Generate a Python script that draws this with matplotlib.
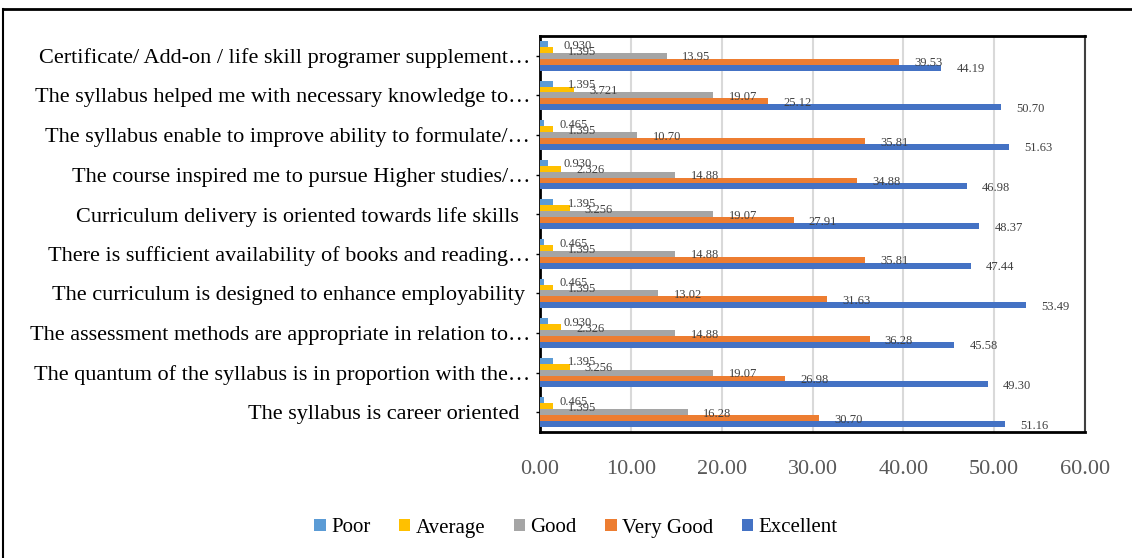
import matplotlib
matplotlib.use("Agg")
import matplotlib.pyplot as plt
import numpy as np
from matplotlib.lines import Line2D

plt.rcParams['font.family'] = ['Liberation Serif', 'DejaVu Serif']

categories = [
    "Certificate/ Add-on / life skill programer supplement…",
    "The syllabus helped me with necessary knowledge to…",
    "The syllabus enable to improve ability to formulate/…",
    "The course inspired me to pursue Higher studies/…",
    "Curriculum delivery is oriented towards life skills  ",
    "There is sufficient availability of books and reading…",
    "The curriculum is designed to enhance employability ",
    "The assessment methods are appropriate in relation to…",
    "The quantum of the syllabus is in proportion with the…",
    "The syllabus is career oriented  ",
]
series_names = ["Poor", "Average", "Good", "Very Good", "Excellent"]
poor = [0.930, 1.395, 0.465, 0.930, 1.395, 0.465, 0.465, 0.930, 1.395, 0.465]
average = [1.395, 3.721, 1.395, 2.326, 3.256, 1.395, 1.395, 2.326, 3.256, 1.395]
good = [13.95, 19.07, 10.70, 14.88, 19.07, 14.88, 13.02, 14.88, 19.07, 16.28]
very_good = [39.53, 25.12, 35.81, 34.88, 27.91, 35.81, 31.63, 36.28, 26.98, 30.70]
excellent = [44.19, 50.70, 51.63, 46.98, 48.37, 47.44, 53.49, 45.58, 49.30, 51.16]
label_formats = ["{:.3f}", "{:.3f}", "{:.2f}", "{:.2f}", "{:.2f}"]
x_ticks = [0, 10, 20, 30, 40, 50, 60]

colors = ["#5B9BD5", "#FFC000", "#A5A5A5", "#ED7D31", "#4472C4"]

fig = plt.figure(figsize=(11.32, 5.58), dpi=100)
ax = fig.add_axes([540/1132, 1-432/558, (1085-540)/1132, (432-36)/558])

n = len(categories)
bh = 0.149
ypos = np.arange(n)
all_series = [poor, average, good, very_good, excellent]
for i, (vals, c, name, fmt) in enumerate(zip(all_series, colors, series_names, label_formats)):
    y = ypos + (i - 2) * bh
    ax.barh(y, vals, height=bh, color=c, label=name, zorder=3)
    for v, yy in zip(vals, y):
        ax.annotate(fmt.format(v), xy=(v, yy), xytext=(11, -1.2), textcoords='offset points',
                    ha='left', va='center', fontsize=9, color='#404040', zorder=4)

ax.set_ylim(n - 0.5, -0.5)
ax.set_xlim(0, 60)
ax.set_xticks(x_ticks)
ax.set_xticklabels([f"{t:.2f}" for t in x_ticks], fontsize=16, color='#595959')
ax.tick_params(axis='x', length=0, pad=20)
ax.set_yticks(ypos)
ax.set_yticklabels(categories, fontsize=16, color='black')
ax.tick_params(axis='y', length=3, width=1, pad=4, direction='out')
ax.xaxis.grid(True, color='#D9D9D9', lw=1.5, zorder=0)
ax.set_axisbelow(True)
for s in ['top', 'bottom', 'left']:
    ax.spines[s].set_color('black')
    ax.spines[s].set_linewidth(2)
ax.spines['right'].set_color('#404040')
ax.spines['right'].set_linewidth(1.5)

# outer frame lines
fig.add_artist(Line2D([3/1132, 1], [1-9/558, 1-9/558], color='black', lw=2, transform=fig.transFigure))
fig.add_artist(Line2D([3/1132, 3/1132], [0, 1-9/558], color='black', lw=1.5, transform=fig.transFigure))

handles, labels = ax.get_legend_handles_labels()
fig.legend(handles, labels, loc='center', bbox_to_anchor=(576/1132, 1-528/558), ncol=5,
           frameon=False, fontsize=15, handlelength=0.55, handleheight=0.55, handletextpad=0.25,
           columnspacing=1.37)

fig.savefig("out.png", dpi=100)
